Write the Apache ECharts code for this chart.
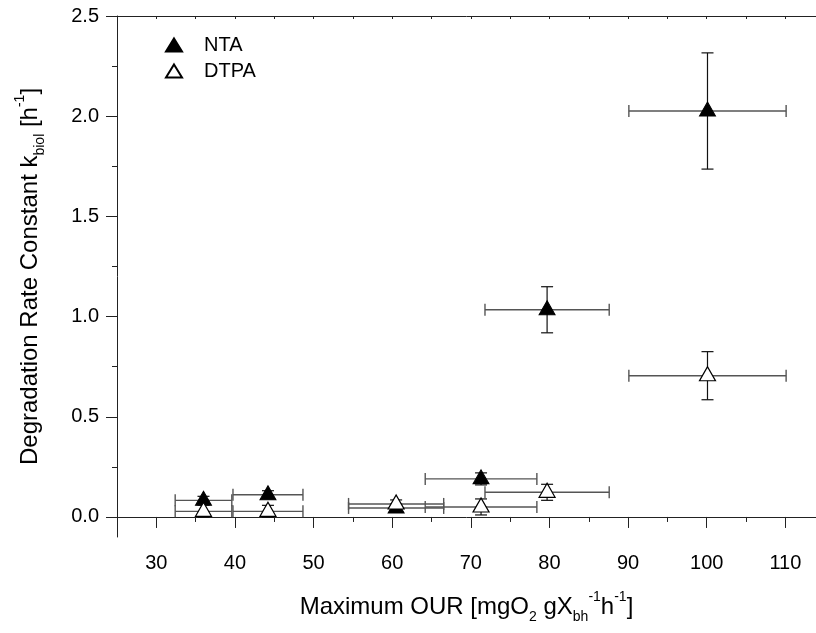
<!DOCTYPE html>
<html>
<head>
<meta charset="utf-8">
<script src="https://cdn.jsdelivr.net/npm/echarts@6/dist/echarts.min.js"></script>
<style>html,body{margin:0;padding:0;background:#fff}#c{width:816px;height:633px}</style>
</head>
<body>
<div id="c"></div>
<script>
// ---- data ----
var ntaX    = [36.0, 44.2, 60.5, 71.3, 79.7, 100.1];
var ntaY    = [0.083, 0.111, 0.045, 0.190, 1.034, 2.026];
var ntaXErr = [3.6, 4.45, 6.05, 7.1, 7.9, 10.0];
var ntaYErr = [0.02, 0.02, 0.02, 0.03, 0.115, 0.29];

var dtpaX    = [36.0, 44.2, 60.5, 71.3, 79.7, 100.1];
var dtpaY    = [0.028, 0.028, 0.065, 0.050, 0.123, 0.705];
var dtpaXErr = [3.6, 4.45, 6.05, 7.1, 7.9, 10.0];
var dtpaYErr = [0.03, 0.03, 0.02, 0.04, 0.04, 0.12];

var xTickLabels = [30, 40, 50, 60, 70, 80, 90, 100, 110];
var xMinorTicks = [25, 35, 45, 55, 65, 75, 85, 95, 105];
var yTickLabels = [0.0, 0.5, 1.0, 1.5, 2.0, 2.5];
var yMinorTicks = [0.25, 0.75, 1.25, 1.75, 2.25];

var FONT = "'Liberation Sans', Arial, sans-serif";

function pts(xs, ys) { return xs.map(function (x, i) { return [x, ys[i]]; }); }
function errRows(xs, ys, xe, ye) {
  return xs.map(function (x, i) {
    return [x, ys[i], x - xe[i], x + xe[i], ys[i] - ye[i], ys[i] + ye[i]];
  });
}
function renderErr(params, api) {
  var c = api.coord([api.value(0), api.value(1)]);
  var xl = api.coord([api.value(2), api.value(1)]);
  var xh = api.coord([api.value(3), api.value(1)]);
  var yl = api.coord([api.value(0), api.value(4)]);
  var yh = api.coord([api.value(0), api.value(5)]);
  var cap = 6;
  var hs = { stroke: '#555', lineWidth: 1.4 };
  var vs = { stroke: '#111', lineWidth: 1.2 };
  return {
    type: 'group',
    children: [
      { type: 'line', shape: { x1: xl[0], y1: c[1], x2: xh[0], y2: c[1] }, style: hs },
      { type: 'line', shape: { x1: xl[0], y1: c[1] - cap, x2: xl[0], y2: c[1] + cap }, style: hs },
      { type: 'line', shape: { x1: xh[0], y1: c[1] - cap, x2: xh[0], y2: c[1] + cap }, style: hs },
      { type: 'line', shape: { x1: c[0], y1: yl[1], x2: c[0], y2: yh[1] }, style: vs },
      { type: 'line', shape: { x1: c[0] - cap, y1: yl[1], x2: c[0] + cap, y2: yl[1] }, style: vs },
      { type: 'line', shape: { x1: c[0] - cap, y1: yh[1], x2: c[0] + cap, y2: yh[1] }, style: vs }
    ]
  };
}

var axisLine = { show: true, lineStyle: { color: '#222', width: 1 } };
var richTitle = {
  sub: { fontSize: 14, fontFamily: FONT, color: '#000', verticalAlign: 'bottom', lineHeight: 34 },
  sup: { fontSize: 14, fontFamily: FONT, color: '#000', verticalAlign: 'top', lineHeight: 34 }
};

var chart = echarts.init(document.getElementById('c'), null, { renderer: 'canvas' });
chart.setOption({
  animation: false,
  backgroundColor: '#fff',
  grid: { left: 117, top: 16, right: 0, height: 521, containLabel: false },
  legend: {
    data: ['NTA', 'DTPA'],
    orient: 'vertical',
    left: 160, top: 30,
    itemWidth: 16, itemHeight: 13, itemGap: 6,
    textStyle: { fontSize: 20, fontFamily: FONT, color: '#000', padding: [0, 0, 0, 17] }
  },
  xAxis: [
    {
      type: 'value', position: 'bottom', min: 25, max: 113.9,
      axisLine: axisLine, splitLine: { show: false },
      axisTick: { show: true, inside: false, length: 11, customValues: xTickLabels, lineStyle: { color: '#222' } },
      axisLabel: { customValues: xTickLabels, margin: 16, fontSize: 20, fontFamily: FONT, color: '#000' },
      name: 'Maximum OUR [mgO{sub|2} gX{sub|bh}{sup|-1}h{sup|-1}]',
      nameLocation: 'middle', nameGap: 70,
      nameTextStyle: { fontSize: 24, fontFamily: FONT, color: '#000', verticalAlign: 'middle', lineHeight: 34, rich: richTitle }
    },
    {
      type: 'value', position: 'bottom', min: 25, max: 113.9,
      axisLine: { show: false }, splitLine: { show: false },
      axisTick: { show: true, inside: false, length: 5, customValues: xMinorTicks, lineStyle: { color: '#222' } },
      axisLabel: { show: false }
    },
    {
      type: 'value', position: 'top', min: 25, max: 113.9,
      axisLine: axisLine, splitLine: { show: false },
      axisTick: { show: true, inside: true, length: 3, customValues: xMinorTicks.concat(xTickLabels), lineStyle: { color: '#222' } },
      axisLabel: { show: false }
    }
  ],
  yAxis: [
    {
      type: 'value', position: 'left', min: -0.1, max: 2.5,
      axisLine: axisLine, splitLine: { show: false },
      axisTick: { show: true, inside: false, length: 11, customValues: yTickLabels, lineStyle: { color: '#222' } },
      axisLabel: {
        customValues: yTickLabels, margin: 18, fontSize: 20, fontFamily: FONT, color: '#000',
        formatter: function (v) { return v.toFixed(1); }
      },
      name: 'Degradation Rate Constant k{sub|biol} [h{sup|-1}]',
      nameLocation: 'middle', nameGap: 87,
      nameTextStyle: { fontSize: 24, fontFamily: FONT, color: '#000', verticalAlign: 'middle', lineHeight: 34, rich: richTitle }
    },
    {
      type: 'value', position: 'left', min: -0.1, max: 2.5,
      axisLine: { show: false }, splitLine: { show: false },
      axisTick: { show: true, inside: false, length: 5, customValues: yMinorTicks, lineStyle: { color: '#222' } },
      axisLabel: { show: false }
    }
  ],
  series: [
    {
      name: 'NTA err', type: 'custom', xAxisIndex: 0, yAxisIndex: 0,
      renderItem: renderErr, data: errRows(ntaX, ntaY, ntaXErr, ntaYErr), z: 2, silent: true
    },
    {
      name: 'NTA', type: 'scatter', xAxisIndex: 0, yAxisIndex: 0,
      symbol: 'triangle', symbolSize: [16, 14], symbolOffset: [0, -2],
      itemStyle: { color: '#000', borderColor: '#000', borderWidth: 1, opacity: 1 },
      data: pts(ntaX, ntaY), z: 3
    },
    {
      name: 'DTPA err', type: 'custom', xAxisIndex: 0, yAxisIndex: 0,
      renderItem: renderErr, data: errRows(dtpaX, dtpaY, dtpaXErr, dtpaYErr), z: 4, silent: true
    },
    {
      name: 'DTPA', type: 'scatter', xAxisIndex: 0, yAxisIndex: 0,
      symbol: 'triangle', symbolSize: [16, 14], symbolOffset: [0, -2],
      itemStyle: { color: '#fff', borderColor: '#000', borderWidth: 1.2, opacity: 1 },
      data: pts(dtpaX, dtpaY), z: 5
    }
  ]
});
</script>
</body>
</html>
